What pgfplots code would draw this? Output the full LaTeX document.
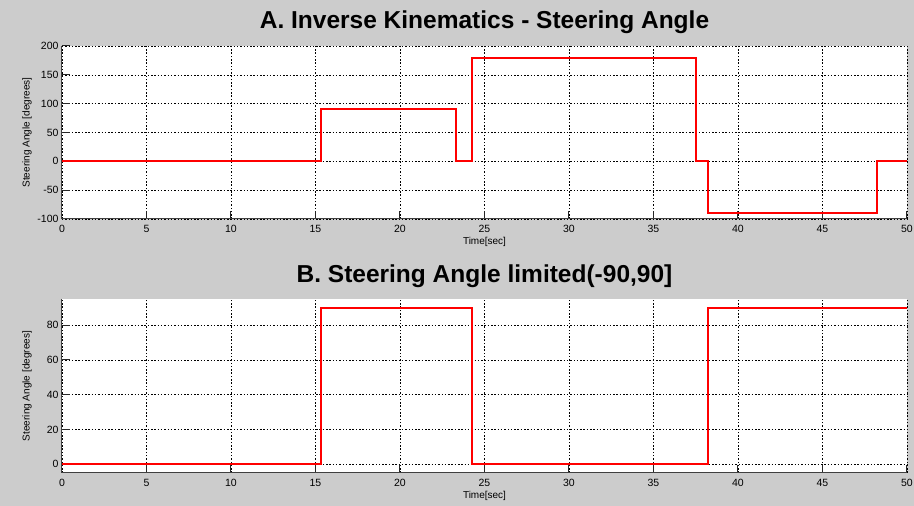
\documentclass[border=0pt]{standalone}
\usepackage{fontspec}
\setmainfont{Liberation Sans}
\usepackage{pgfplots}
\pgfplotsset{compat=1.18}
\definecolor{figbg}{RGB}{204,204,204}
\definecolor{matred}{RGB}{255,0,0}
\pgfplotsset{
  matlabax/.style={
    scale only axis,
    width=845pt,
    xmin=0, xmax=50,
    xtick={0,5,...,50},
    axis x line*=bottom,
    axis y line*=left,
    axis line style={black!75, line width=1pt},
    tick align=inside,
    major tick length=8pt,
    tick style={black!85, line width=1pt},
    grid=major,
    major grid style={black, line width=0.6pt, dash pattern=on 1.5pt off 1.8pt},
    axis background/.style={fill=white},
    /pgf/number format/assume math mode=true,
    tick label style={font=\fontsize{10.5}{12}\selectfont},
    xticklabel style={anchor=center, yshift=-10pt},
    label style={font=\fontsize{10}{12}\selectfont},
    title style={font=\bfseries\fontsize{24.5}{28}\selectfont, anchor=base},
  }
}
\begin{document}
\begin{tikzpicture}
\fill[figbg] (0pt,0pt) rectangle (914pt,506pt);
\path[use as bounding box] (0pt,0pt) rectangle (914pt,506pt);

% A. inverse kinematics
\begin{axis}[matlabax,
  at={(62pt,287pt)}, anchor=south west,
  height=173pt,
  ymin=-100, ymax=200,
  ytick={-100,-50,...,200},
  title={A. Inverse Kinematics - Steering Angle},
  title style={at={(axis description cs:0.5,1.0636)}},
  xlabel={Time[sec]},
  xlabel style={at={(axis description cs:0.5,-0.133)}, anchor=center},
  ylabel={Steering Angle [degrees]},
  ylabel style={at={(axis description cs:-0.0414,0.5)}, anchor=center},
]
\addplot[matred, line width=2pt] coordinates {
  (0,0) (15.35,0) (15.35,90) (23.3,90) (23.3,0) (24.25,0) (24.25,180)
  (37.5,180) (37.5,0) (38.2,0) (38.2,-90) (48.2,-90) (48.2,0) (50,0)
};
\end{axis}

% B. limited
\begin{axis}[matlabax,
  at={(62pt,33pt)}, anchor=south west,
  height=174pt,
  ymin=-5, ymax=95,
  ytick={0,20,...,80},
  title={B. Steering Angle limited(-90,90]},
  title style={at={(axis description cs:0.5,1.0632)}},
  xlabel={Time[sec]},
  xlabel style={at={(axis description cs:0.5,-0.132)}, anchor=center},
  ylabel={Steering Angle [degrees]},
  ylabel style={at={(axis description cs:-0.0414,0.5)}, anchor=center},
]
\addplot[matred, line width=2pt] coordinates {
  (0,0) (15.35,0) (15.35,90) (24.25,90) (24.25,0) (38.2,0) (38.2,90) (50,90)
};
\end{axis}
\end{tikzpicture}
\end{document}
